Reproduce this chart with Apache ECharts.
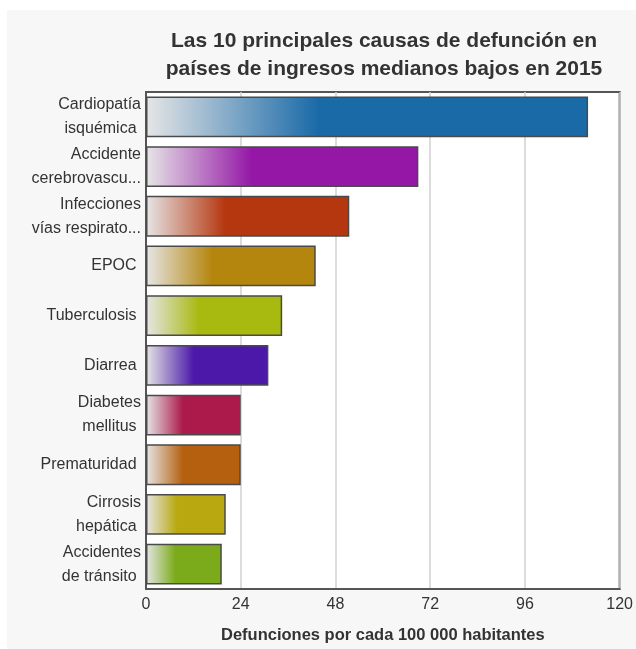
<!DOCTYPE html>
<html><head><meta charset="utf-8">
<script src="https://cdn.jsdelivr.net/npm/echarts@6/dist/echarts.min.js"></script>
<style>
html,body{margin:0;padding:0;background:#ffffff;}
#wrap{position:absolute;left:0;top:0;width:636px;height:649px;background:#ffffff;}
#bg{position:absolute;left:7px;top:10px;width:629px;height:639px;background:#f7f7f7;}
#c{position:absolute;left:0;top:0;width:636px;height:649px;}
</style></head>
<body>
<div id="wrap"><div id="bg"></div><div id="c"></div></div>
<script>
const titleText = "Las 10 principales causas de defunción en\npaíses de ingresos medianos bajos en 2015";
const categories = [
  "Cardiopatía\nisquémica ",
  "Accidente\ncerebrovascu...",
  "Infecciones\nvías respirato...",
  "EPOC ",
  "Tuberculosis ",
  "Diarrea ",
  "Diabetes\nmellitus ",
  "Prematuridad ",
  "Cirrosis\nhepática ",
  "Accidentes\nde tránsito "
];
const values = [112, 69, 51.5, 43, 34.5, 31, 24, 24, 20.2, 19.2];
const colors = ["#1a6aa8", "#9417a6", "#b5370f", "#b5860d", "#a8b90f", "#4b18a9", "#ac1a4b", "#b5600f", "#b9a80f", "#7bab1a"];
const xTicks = [0, 24, 48, 72, 96, 120];
const xAxisName = "Defunciones por cada 100 000 habitantes";

const chart = echarts.init(document.getElementById('c'), null, {renderer: 'canvas'});
const data = values.map((v, i) => ({
  value: v,
  itemStyle: {
    color: {
      type: 'linear', x: 0, y: 0, x2: 1, y2: 0,
      colorStops: [
        {offset: 0, color: '#e6e6e6'},
        {offset: 0.39, color: colors[i]},
        {offset: 1, color: colors[i]}
      ]
    }
  }
}));
chart.setOption({
  backgroundColor: 'transparent',
  animation: false,
  title: {
    text: titleText,
    left: 379, top: 22, textAlign: 'center',
    textStyle: {fontFamily: 'Liberation Sans, Arial, sans-serif', fontSize: 21, fontWeight: 'bold', color: '#333', lineHeight: 28}
  },
  grid: {
    left: 146, right: 15, top: 92, bottom: 58,
    show: true, backgroundColor: '#ffffff', borderColor: '#555', borderWidth: 2
  },
  xAxis: {
    type: 'value', min: xTicks[0], max: xTicks[xTicks.length - 1], interval: 24,
    name: xAxisName, nameLocation: 'middle', nameGap: 38,
    nameTextStyle: {fontFamily: 'Liberation Sans, Arial, sans-serif', fontSize: 16.5, fontWeight: 'bold', color: '#333'},
    axisLine: {show: true, lineStyle: {color: '#555', width: 2}},
    axisTick: {show: false},
    axisLabel: {fontFamily: 'Liberation Sans, Arial, sans-serif', fontSize: 16, color: '#333', margin: 8},
    splitLine: {show: true, lineStyle: {color: '#d0d0d0', width: 1.5}}
  },
  yAxis: {
    type: 'category', data: categories, inverse: true,
    axisLine: {show: true, lineStyle: {color: '#555', width: 2}},
    axisTick: {show: false},
    splitLine: {show: false},
    axisLabel: {fontFamily: 'Liberation Sans, Arial, sans-serif', fontSize: 16, color: '#333', lineHeight: 24, margin: 5, align: 'right'}
  },
  series: [{
    type: 'bar', data: data, barCategoryGap: '18%',
    itemStyle: {borderColor: '#4a4a4a', borderWidth: 1.5}
  }]
});
</script>
</body></html>
